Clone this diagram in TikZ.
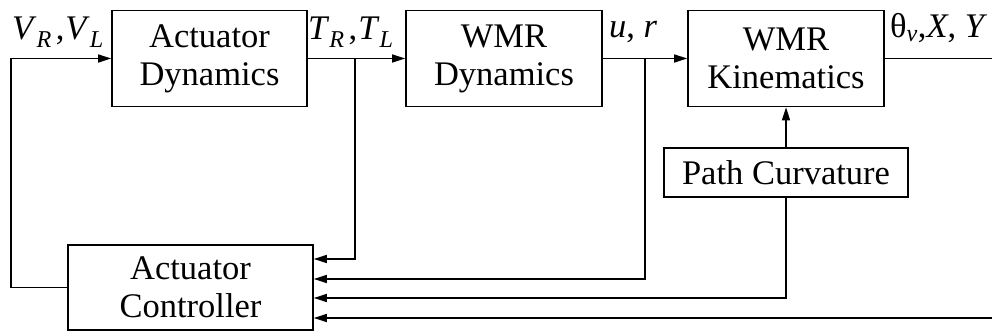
\documentclass[tikz,border=0pt]{standalone}
\usepackage{fontspec}
\setmainfont{Liberation Serif}
\usepackage{tikz}
\usetikzlibrary{
    arrows.meta,
    calc
}
\tikzstyle{block} = [
    rectangle,
    draw=black,
    line width=1.6pt,
    minimum width=196pt,
    minimum height=96pt,
    inner sep=0pt,
    align=center,
    font=\fontsize{34.5}{38}\selectfont
]
\tikzstyle{signal} = [
    anchor=base west,
    inner sep=0pt,
    font=\fontsize{34.5}{38}\selectfont
]
\tikzstyle{arrow} = [
    -{Triangle[length=13pt,width=8pt]},
    line width=1.6pt,
    draw=black
]
\tikzstyle{wire} = [
    line width=1.6pt,
    draw=black
]

\begin{document}
\begin{tikzpicture}[x=1pt, y=1pt]
    \useasboundingbox (0,0) rectangle (992,331);

    % Forward path
    \node[block, minimum width=195pt] (actdyn) at (209.5,272.5) {Actuator\\Dynamics};
    \node[block] (wmrdyn) at (504,272.5) {WMR\\Dynamics};
    \node[block] (wmrkin) at (786,272.5) {WMR\\Kinematics};

    % Path curvature
    \node[block, minimum width=244pt, minimum height=49pt] (curv) at (786,158.5) {Path Curvature};

    % Actuator controller
    \node[block, minimum width=245pt, minimum height=85pt] (ctrl) at (190.5,43.5) {Actuator\\Controller};

    % Free ends on the right
    \coordinate (out) at (992,272.5);
    \coordinate (back) at (992,13);

    % Signal labels
    \node[signal] (vlab) at (12,291) {\textit{V}\textsubscript{\textit{R}}\kern4pt,\kern1pt\textit{V}\textsubscript{\textit{L}}};
    \node[signal] (tlab) at (308,291) {\textit{T}\textsubscript{\textit{R}}\kern4pt,\kern1pt\textit{T}\textsubscript{\textit{L}}};
    \node[signal] (urlab) at (609,293) {\textit{u}, \textit{r}};
    \node[signal] (outlab) at (890,293) {θ\textsubscript{\textit{v}},\textit{X}, \textit{Y}};

    % Arrows
    \draw[arrow] (ctrl.west) -- ++(-56,0) |- (actdyn.west);
    \draw[arrow] (actdyn) -- (wmrdyn);
    \draw[arrow] (wmrdyn) -- (wmrkin);
    \draw[wire] (wmrkin) -- (out);
    \draw[arrow] (curv) -- (wmrkin);

    % Feedback into the controller
    \draw[arrow] (actdyn.east) ++(47,0) |- ($(ctrl.east)+(0,28.5)$);
    \draw[arrow] (wmrdyn.east) ++(42,0) |- ($(ctrl.east)+(0,8.5)$);
    \draw[arrow] (curv.south) |- ($(ctrl.east)+(0,-10.5)$);
    \draw[arrow] (back) -- ($(ctrl.east)+(0,-30.5)$);
\end{tikzpicture}
\end{document}
